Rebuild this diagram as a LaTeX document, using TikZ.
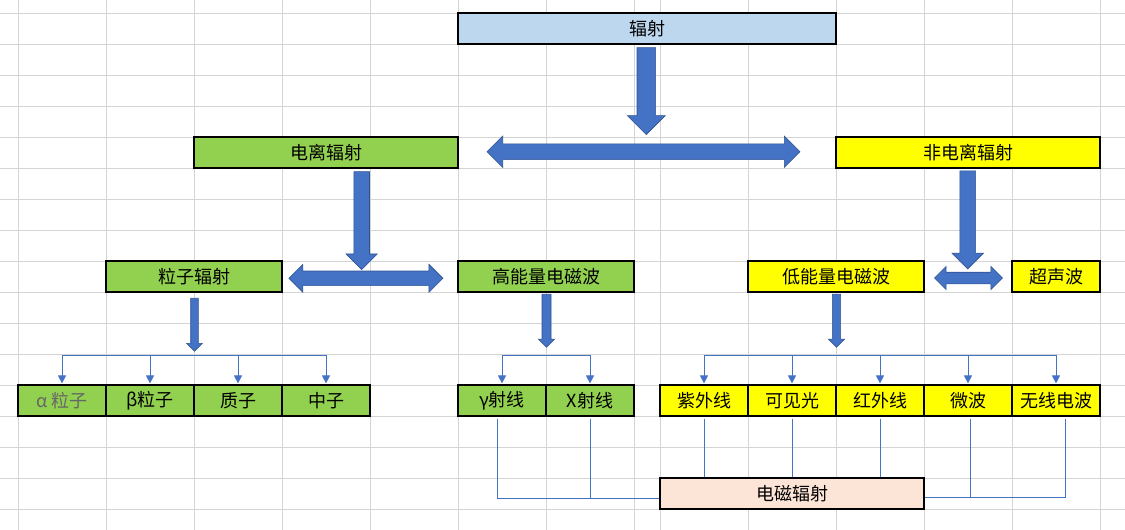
\documentclass[tikz,border=0pt]{standalone}
\usepackage{fontspec}
\newfontfamily\cjk{Noto Sans CJK SC}
\usetikzlibrary{arrows.meta, shapes.arrows}
\usepackage{xcolor}
\definecolor{gridgray}{HTML}{D4D4D4}
\definecolor{topblue}{HTML}{BDD7EE}
\definecolor{cellgreen}{HTML}{92D050}
\definecolor{cellyellow}{HTML}{FFFF00}
\definecolor{cellpeach}{HTML}{FCE4D6}
\definecolor{arrowblue}{HTML}{4472C4}
\definecolor{arrowedge}{HTML}{2F528F}

\begin{document}
\begin{tikzpicture}[x=1pt, y=-1pt, font=\cjk\fontsize{18}{20}\selectfont, >={Triangle[width=8pt,length=8pt]},
        cell/.style={draw=black, line width=1.2pt, minimum height=31, inner sep=0pt},
        bigarrow/.style={fill=arrowblue, draw=arrowedge, line width=0.6pt},
        thinline/.style={draw=arrowblue, line width=1pt}]
        \def\rA{28.5} \def\rB{152.5} \def\rC{276.5} \def\rD{400.5} \def\rE{493.5}
        \useasboundingbox (0,0) rectangle (1125,530);

        % sheet grid
        \foreach \x in {18,106,194,282,370,458,546,634,660,748,836,924,1012,1100}
            \draw[gridgray, line width=1pt] (\x,0) -- (\x,530);
        \foreach \y in {13,44,...,509}
            \draw[gridgray, line width=1pt] (0,\y) -- (1125,\y);

        \node[cell, fill=topblue, minimum width=378] (rad) at (647,\rA) {辐射};
        \node[cell, fill=cellgreen, minimum width=264] (ion) at (326,\rB) {电离辐射};
        \node[cell, fill=cellyellow, minimum width=264] (nonion) at (968,\rB) {非电离辐射};

        \node[cell, fill=cellgreen, minimum width=176] (part) at (194,\rC) {粒子辐射};
        \node[cell, fill=cellgreen, minimum width=176] (hiem) at (546,\rC) {高能量电磁波};
        \node[cell, fill=cellyellow, minimum width=176] (loem) at (836,\rC) {低能量电磁波};
        \node[cell, fill=cellyellow, minimum width=88] (sonic) at (1056,\rC) {超声波};

        \node[cell, fill=cellgreen, minimum width=88, text=black!60] (alpha) at (62,\rD) {α 粒子};
        \node[cell, fill=cellgreen, minimum width=88] (beta) at (150,\rD) {β粒子};
        \node[cell, fill=cellgreen, minimum width=88] (proton) at (238,\rD) {质子};
        \node[cell, fill=cellgreen, minimum width=88] (neutron) at (326,\rD) {中子};
        \node[cell, fill=cellgreen, minimum width=88] (gamma) at (502,\rD) {γ射线};
        \node[cell, fill=cellgreen, minimum width=88] (xray) at (590,\rD) {X射线};
        \node[cell, fill=cellyellow, minimum width=88] (uv) at (704,\rD) {紫外线};
        \node[cell, fill=cellyellow, minimum width=88] (vis) at (792,\rD) {可见光};
        \node[cell, fill=cellyellow, minimum width=88] (ir) at (880,\rD) {红外线};
        \node[cell, fill=cellyellow, minimum width=88] (micro) at (968,\rD) {微波};
        \node[cell, fill=cellyellow, minimum width=88] (radio) at (1056,\rD) {无线电波};

        \node[cell, fill=cellpeach, minimum width=264] (emr) at (792,\rE) {电磁辐射};

        % block arrows
        \node[bigarrow, single arrow, shape border rotate=270, anchor=tip, minimum height=87, inner sep=9pt, single arrow head extend=9.6pt] (down1) at (646.3,135) {};
        \node[bigarrow, double arrow, minimum height=313, inner sep=7.6pt, double arrow head extend=7.8pt] (both1) at (643.5,151.7) {};
        \node[bigarrow, single arrow, shape border rotate=270, anchor=tip, minimum height=98, inner sep=7.5pt, single arrow head extend=7.8pt] (down2) at (361.7,270) {};
        \node[bigarrow, double arrow, minimum height=154, inner sep=7pt, double arrow head extend=6.7pt] (both2) at (365.9,278.3) {};
        \node[bigarrow, single arrow, shape border rotate=270, anchor=tip, minimum height=98, inner sep=7.6pt, single arrow head extend=7.8pt] (down3) at (967.7,269.3) {};
        \node[bigarrow, double arrow, minimum height=68, inner sep=5.5pt, double arrow head extend=5.8pt] (both3) at (968.5,278) {};
        \node[bigarrow, single arrow, shape border rotate=270, anchor=tip, minimum height=53, inner sep=3.5pt, single arrow head extend=4.1pt] (down4) at (194.5,351.7) {};
        \node[bigarrow, single arrow, shape border rotate=270, anchor=tip, minimum height=53, inner sep=4.2pt, single arrow head extend=3.5pt] (down5) at (546.5,347.7) {};
        \node[bigarrow, single arrow, shape border rotate=270, anchor=tip, minimum height=53, inner sep=3.8pt, single arrow head extend=4pt] (down6) at (836.5,347.7) {};

        % branches to the lowest row
        \coordinate (bus) at (0,355.3);
        \draw[thinline] (alpha.north |- bus) -- (neutron.north |- bus);
        \draw[thinline] (gamma.north |- bus) -- (xray.north |- bus);
        \draw[thinline] (uv.north |- bus) -- (radio.north |- bus);
        \foreach \n in {alpha,beta,proton,neutron,gamma,xray,uv,vis,ir,micro,radio}
            \draw[thinline, ->] (\n.north |- bus) -- ([yshift=1pt]\n.north);

        % links to the electromagnetic box
        \coordinate (lbus) at ([yshift=-4.5pt]emr.west);
        \coordinate (rbus) at ([yshift=-4pt]emr.east);
        \draw[thinline] ([xshift=-5pt,yshift=-2pt]gamma.south) |- (lbus);
        \draw[thinline] ([yshift=-2pt]xray.south) -- (xray.south |- lbus);
        \foreach \n in {uv,vis,ir}
            \draw[thinline] ([yshift=-2pt]\n.south) -- (\n.south |- emr.north);
        \draw[thinline] (rbus) -| ([xshift=9pt,yshift=-2pt]radio.south);
        \draw[thinline] ([xshift=2pt,yshift=-2pt]micro.south) -- ([xshift=2pt]micro.south |- rbus);
\end{tikzpicture}
\end{document}
